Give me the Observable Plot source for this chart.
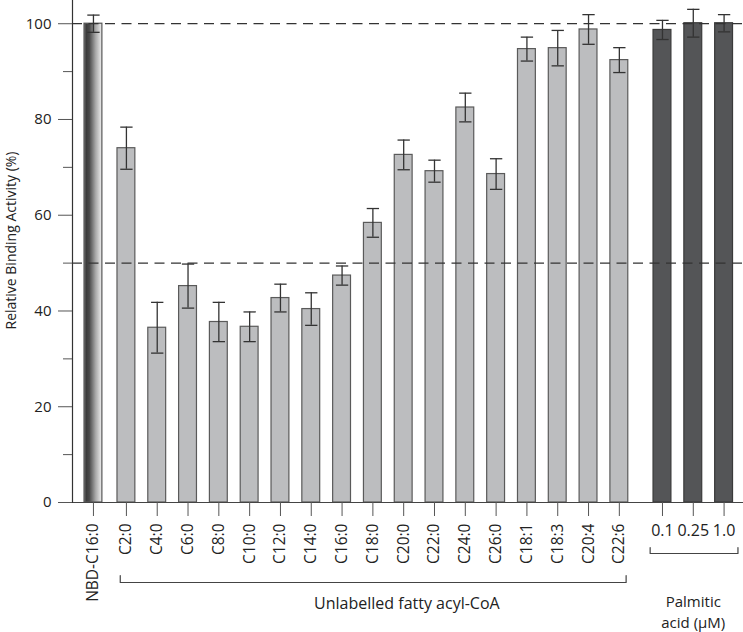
<!DOCTYPE html>
<html><head><meta charset="utf-8">
<script src="https://cdn.jsdelivr.net/npm/d3@7"></script>
<script src="https://cdn.jsdelivr.net/npm/@observablehq/plot@0.6"></script>
<style>
body{margin:0;background:#fff;}
svg{display:block}
</style>
</head><body><div id="chart"></div>
<script>
// ---- data ----
const labels = ["NBD-C16:0","C2:0","C4:0","C6:0","C8:0","C10:0","C12:0","C14:0","C16:0","C18:0","C20:0","C22:0","C24:0","C26:0","C18:1","C18:3","C20:4","C22:6","0.1","0.25","1.0"];
const groups = ["control","unlabelled","unlabelled","unlabelled","unlabelled","unlabelled","unlabelled","unlabelled","unlabelled","unlabelled","unlabelled","unlabelled","unlabelled","unlabelled","unlabelled","unlabelled","unlabelled","unlabelled","palmitic","palmitic","palmitic"];
const values = [100.0,74.0,36.5,45.2,37.7,36.7,42.7,40.4,47.4,58.4,72.6,69.2,82.5,68.6,94.7,94.9,98.8,92.4,98.7,100.1,100.1];
const errors = [1.8,4.4,5.3,4.6,4.1,3.1,2.9,3.4,2.0,3.0,3.1,2.3,3.0,3.2,2.5,3.7,3.1,2.6,2.0,2.9,1.8];
const yTicks = [0,20,40,60,80,100];
const yMinorTicks = [10,30,50,70,90];
const refLines = [50,100];
const yTitle = "Relative Binding Activity (%)";
const unlabelledTitle = "Unlabelled fatty acyl-CoA";
const palmiticTitle = "Palmitic\nacid (μM)";

// ---- layout helpers ----
const groupShift = {control: 0, unlabelled: 0.07, palmitic: 0.47};
const data = labels.map((label, i) => ({
  label, group: groups[i], value: values[i], error: errors[i],
  pos: i + groupShift[groups[i]]
}));
const half = 0.29, cap = 0.2;
const font = "'Open Sans', sans-serif";

function bracket(group, pad, rise) {
  const ps = data.filter(d => d.group === group).map(d => d.pos);
  const x1 = d3.min(ps) - pad[0], x2 = d3.max(ps) + pad[1];
  return [{x: x1, y: rise}, {x: x1, y: 0}, {x: x2, y: 0}, {x: x2, y: rise}];
}
const unl = data.filter(d => d.group === "unlabelled");
const pal = data.filter(d => d.group === "palmitic");

const bar = (group, fill, stroke) => Plot.rectY(data.filter(d => d.group === group), {
  x1: d => d.pos - half, x2: d => d.pos + half, y1: 0, y2: "value",
  fill, stroke, strokeWidth: 1.2
});

const chart = Plot.plot({
  width: 743, height: 632,
  marginLeft: 72, marginRight: 0, marginTop: 0, marginBottom: 130,
  style: {fontFamily: font, background: "#fff", color: "#222", overflow: "visible"},
  x: {domain: [-0.68, 21.1], axis: null, label: null},
  y: {domain: [0, 104.85], axis: null, label: null},
  marks: [
    bar("control", "url(#nbdGrad)", "#555"),
    bar("unlabelled", "#bcbdbf", "#5a5a5a"),
    bar("palmitic", "#545557", "#3a3a3a"),
    Plot.ruleX(data, {x: "pos", y1: d => d.value - d.error, y2: d => d.value + d.error, stroke: "#333", strokeWidth: 1.3}),
    Plot.link(data, {x1: d => d.pos - cap, x2: d => d.pos + cap, y1: d => d.value + d.error, y2: d => d.value + d.error, stroke: "#333", strokeWidth: 1.3}),
    Plot.link(data, {x1: d => d.pos - cap, x2: d => d.pos + cap, y1: d => d.value - d.error, y2: d => d.value - d.error, stroke: "#333", strokeWidth: 1.3}),
    Plot.ruleY(refLines, {stroke: "#333", strokeWidth: 1.2, strokeDasharray: "10,6.5"}),
    Plot.ruleY([0], {stroke: "#444", strokeWidth: 1.2}),
    Plot.frame({anchor: "left", stroke: "#333", strokeWidth: 1.2}),
    Plot.axisY(yTicks, {tickSize: 14, tickPadding: 7, fontSize: 15, stroke: "#555", label: null}),
    Plot.axisY(yMinorTicks, {tickSize: 9, tickFormat: () => "", stroke: "#555", label: null}),
    Plot.axisX(data.map(d => d.pos), {tickSize: 14, tickFormat: () => "", stroke: "#555", label: null}),
    Plot.text(data.filter(d => d.group !== "palmitic"), {x: "pos", y: 0, text: "label", rotate: -90, textAnchor: "end", lineAnchor: "middle", dy: 21, fontSize: 15.5, fill: "#222"}),
    Plot.text(pal, {x: "pos", y: 0, text: "label", lineAnchor: "bottom", dy: 33, fontSize: 16, fill: "#222"}),
    Plot.line(bracket("unlabelled", [0.2, 0.22], 1.45), {x: "x", y: "y", dy: 80, stroke: "#444", strokeWidth: 1.2}),
    Plot.line(bracket("palmitic", [0.4, 0.45], 1.25), {x: "x", y: "y", dy: 51, stroke: "#444", strokeWidth: 1.2}),
    Plot.text([unlabelledTitle], {x: d3.mean(unl, d => d.pos), y: 0, dx: 34, dy: 106, lineAnchor: "bottom", fontSize: 16, fill: "#222"}),
    Plot.text([palmiticTitle], {x: d3.mean(pal, d => d.pos), y: 0, dy: 125, lineAnchor: "bottom", lineHeight: 1.4, fontSize: 15, fill: "#222"}),
    Plot.text([yTitle], {frameAnchor: "left", textAnchor: "middle", lineAnchor: "middle", dx: -61, dy: -11, rotate: -90, fontSize: 14, fill: "#222"})
  ]
});

// gradient for the NBD-C16:0 bar
const defs = d3.select(chart).insert("defs", ":first-child");
const g = defs.append("linearGradient").attr("id", "nbdGrad").attr("x1", "0%").attr("x2", "100%").attr("y1", "0%").attr("y2", "0%");
[[0, "#7a7a7a"], [0.12, "#3a3a3a"], [0.3, "#4a4a4a"], [0.65, "#a8a8a8"], [1, "#f0f0f0"]].forEach(([o, c]) =>
  g.append("stop").attr("offset", o).attr("stop-color", c));

document.getElementById("chart").appendChild(chart);
</script>
</body></html>
